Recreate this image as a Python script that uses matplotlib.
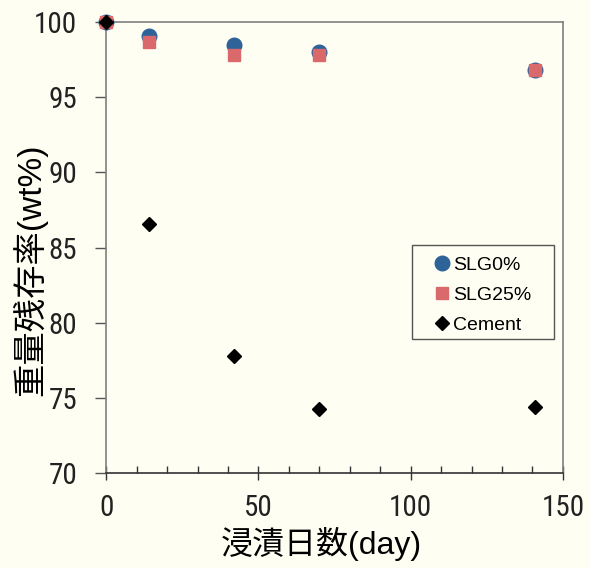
import matplotlib
matplotlib.use("Agg")
import matplotlib.pyplot as plt
from matplotlib.ticker import MultipleLocator
from matplotlib.patches import Rectangle

days = [0, 14, 42, 70, 141]
slg0 = [100, 99.1, 98.5, 98.0, 96.8]
slg25 = [100, 98.7, 97.8, 97.8, 96.8]
cement = [100, 86.6, 77.8, 74.3, 74.4]
labels = ["SLG0%", "SLG25%", "Cement"]

plt.rcParams['font.family'] = ['Liberation Sans', 'Noto Sans CJK JP']
bg = '#FEFEF2'
fig = plt.figure(figsize=(5.9, 5.68), dpi=100, facecolor=bg)
ax = fig.add_axes([0.18, 0.167, 0.774, 0.794], facecolor=bg)

ax.plot(days, slg0, 'o', color='#2E6399', markersize=10.5, label=labels[0], clip_on=False, zorder=3)
ax.plot(days, slg25, 's', color='#D9696B', markersize=9, label=labels[1], clip_on=False, zorder=4)
ax.plot(days, cement, 'D', color='black', markersize=7.5, label=labels[2], clip_on=False, zorder=5)

ax.set_xlim(0, 150)
ax.set_ylim(70, 100)
ax.xaxis.set_major_locator(MultipleLocator(50))
ax.xaxis.set_minor_locator(MultipleLocator(10))
ax.yaxis.set_major_locator(MultipleLocator(5))

for s in ax.spines.values():
    s.set_color('#7F7F7F')
    s.set_linewidth(1.2)
ax.spines['bottom'].set_color('#333333')

ax.tick_params(axis='x', which='major', direction='inout', length=10, width=1, color='#333333', pad=10)
ax.tick_params(axis='x', which='minor', direction='in', length=5, width=1, color='#333333')
ax.tick_params(axis='y', which='major', direction='out', length=8, width=1, color='#555555', pad=13)
for lab in ax.get_xticklabels() + ax.get_yticklabels():
    lab.set_family(['Roboto Condensed', 'Archivo Narrow', 'Liberation Sans'])
    lab.set_fontsize(21)
    lab.set_color('#222222')

ax.set_xlabel("浸漬日数(day)", fontsize=23)
ax.xaxis.set_label_coords(0.47, -0.12)
ax.set_ylabel("重量残存率(wt%)", fontsize=24)
ax.yaxis.set_label_coords(-0.128, 0.452)

# legend frame
ax.add_patch(Rectangle((0.6696, 0.297), 0.3104, 0.2085, transform=ax.transAxes,
                       facecolor=bg, edgecolor='#555555', linewidth=1, zorder=6))
leg = ax.legend(loc='upper left', bbox_to_anchor=(0.711, 0.481), borderaxespad=0, borderpad=0,
                frameon=False, fontsize=14, handletextpad=0.0, handlelength=1.13, labelspacing=0.63)
leg.set_zorder(7)

fig.savefig("out.png", dpi=100, facecolor=bg)
